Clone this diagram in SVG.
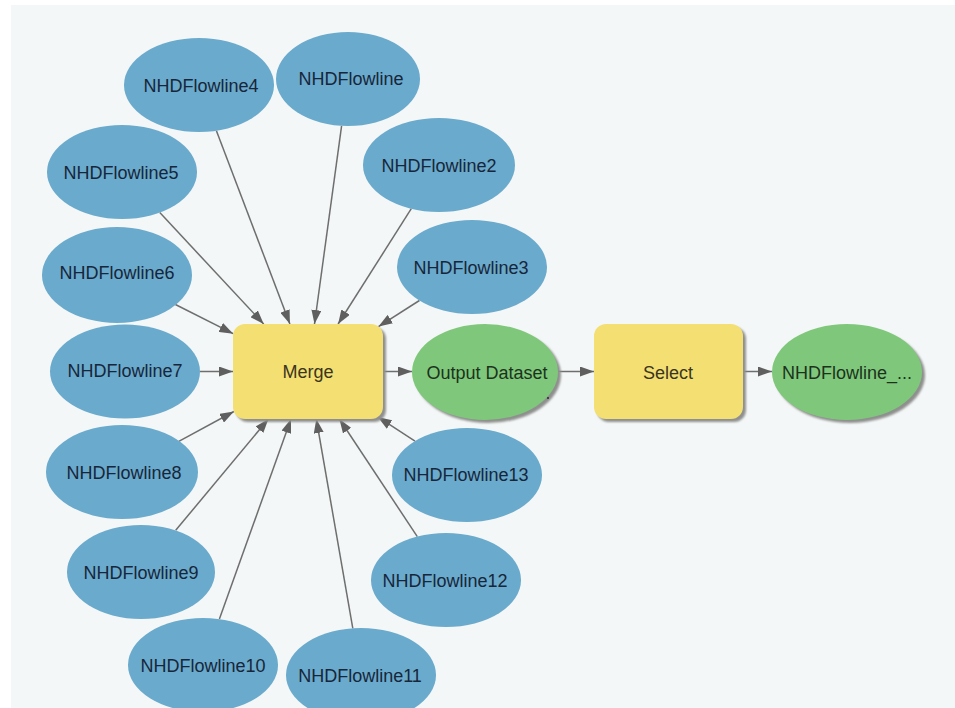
<svg xmlns="http://www.w3.org/2000/svg" width="955" height="708" viewBox="0 0 955 708">
<defs>
<marker id="ah" markerUnits="userSpaceOnUse" markerWidth="14" markerHeight="10" refX="14" refY="5" orient="auto">
<path d="M0,0 L14,5 L0,10 z" fill="#5f5f5f"/>
</marker>
<filter id="blur" x="-10%" y="-10%" width="130%" height="130%"><feGaussianBlur stdDeviation="1.2"/></filter>
</defs>
<style>
.data{fill:#6aaacc}
.out{fill:#7fc87b}
.tool{fill:#f4df72}
.sh{fill:#8f8f8f;filter:url(#blur)}
text{font-family:"Liberation Sans",Arial,sans-serif;font-size:18px;text-anchor:middle}
.tb{fill:#17263a}
.tg{fill:#1c321c}
.ty{fill:#3a3520}
#connectors line{stroke:#6e6e6e;stroke-width:1.5;marker-end:url(#ah)}
</style>
<rect x="0" y="0" width="955" height="708" fill="#ffffff"/>
<rect x="11" y="5" width="944" height="703" fill="#f4f7f7"/>
<g id="connectors">
<line x1="216.4" y1="130.7" x2="289.9" y2="324"/>
<line x1="341.6" y1="125.8" x2="314.5" y2="324"/>
<line x1="159.8" y1="212.6" x2="263.7" y2="324"/>
<line x1="411.3" y1="208.7" x2="338.1" y2="324"/>
<line x1="175.4" y1="304.5" x2="233.2" y2="333.7"/>
<line x1="419.4" y1="300.5" x2="378.5" y2="326.6"/>
<line x1="200" y1="371.5" x2="233" y2="371.5"/>
<line x1="178.8" y1="441.3" x2="233.9" y2="411.5"/>
<line x1="415" y1="441.1" x2="377.8" y2="416.9"/>
<line x1="175.7" y1="530.3" x2="268.4" y2="419"/>
<line x1="417.3" y1="536.6" x2="339.4" y2="419"/>
<line x1="219.4" y1="619.1" x2="291" y2="419"/>
<line x1="352.8" y1="628.3" x2="316.3" y2="419"/>
<line x1="383" y1="371.5" x2="412" y2="371.5"/>
<line x1="558" y1="371.5" x2="594" y2="371.5"/>
<line x1="743" y1="371.5" x2="772" y2="371.5"/>
</g>
<g id="n4"><ellipse class="data" cx="199" cy="85" rx="75" ry="47"/><text class="tb" x="201" y="92">NHDFlowline4</text></g>
<g id="n0"><ellipse class="data" cx="348" cy="79" rx="72" ry="47"/><text class="tb" x="351" y="85">NHDFlowline</text></g>
<g id="n5"><ellipse class="data" cx="122" cy="172" rx="75" ry="47"/><text class="tb" x="121" y="179">NHDFlowline5</text></g>
<g id="n2"><ellipse class="data" cx="439" cy="165" rx="76" ry="47"/><text class="tb" x="439" y="172">NHDFlowline2</text></g>
<g id="n6"><ellipse class="data" cx="117" cy="275" rx="75" ry="48"/><text class="tb" x="117" y="279">NHDFlowline6</text></g>
<g id="n3"><ellipse class="data" cx="472" cy="267" rx="75" ry="47"/><text class="tb" x="471" y="274">NHDFlowline3</text></g>
<g id="n7"><ellipse class="data" cx="125" cy="371.5" rx="75" ry="47"/><text class="tb" x="125" y="377">NHDFlowline7</text></g>
<g id="n8"><ellipse class="data" cx="122" cy="472" rx="76" ry="47"/><text class="tb" x="124" y="479">NHDFlowline8</text></g>
<g id="n13"><ellipse class="data" cx="467" cy="475" rx="75" ry="47"/><text class="tb" x="466" y="481">NHDFlowline13</text></g>
<g id="n9"><ellipse class="data" cx="141" cy="572" rx="74" ry="47"/><text class="tb" x="141" y="579">NHDFlowline9</text></g>
<g id="n12"><ellipse class="data" cx="446" cy="580" rx="75" ry="47"/><text class="tb" x="445" y="587">NHDFlowline12</text></g>
<g id="n10"><ellipse class="data" cx="203" cy="665" rx="75" ry="47"/><text class="tb" x="203" y="672">NHDFlowline10</text></g>
<g id="n11"><ellipse class="data" cx="361" cy="675" rx="75" ry="47"/><text class="tb" x="360" y="682">NHDFlowline11</text></g>
<g id="merge"><rect class="sh" x="236" y="327" width="150" height="95" rx="12"/><rect class="tool" x="233" y="324" width="150" height="95" rx="12"/><text class="ty" x="308" y="378">Merge</text></g>
<g id="output"><ellipse class="sh" cx="488" cy="375" rx="73" ry="48"/><ellipse class="out" cx="485" cy="372" rx="73" ry="48"/><text class="tg" x="487" y="379">Output Dataset</text><circle cx="548" cy="398" r="1" fill="#1c321c"/></g>
<g id="select"><rect class="sh" x="597" y="327" width="149" height="95" rx="12"/><rect class="tool" x="594" y="324" width="149" height="95" rx="12"/><text class="ty" x="668" y="379">Select</text></g>
<g id="final"><ellipse class="sh" cx="850" cy="375" rx="75" ry="48"/><ellipse class="out" cx="847" cy="372" rx="75" ry="48"/><text class="tg" x="847" y="379">NHDFlowline_...</text></g>
</svg>
